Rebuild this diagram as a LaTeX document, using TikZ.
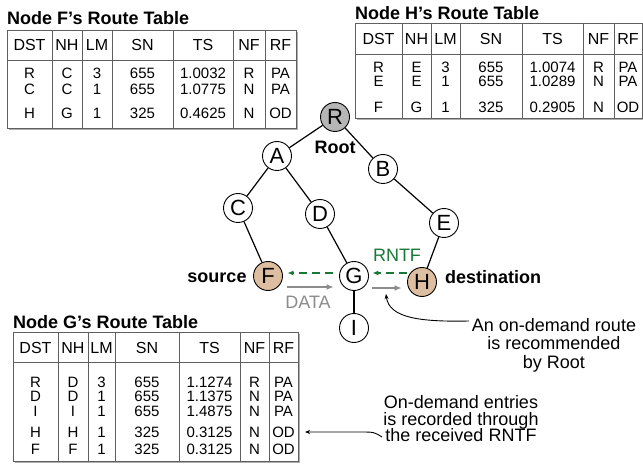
\documentclass[tikz,border=0pt]{standalone}
\usepackage{fontspec}
\setmainfont{Liberation Sans}
\usetikzlibrary{arrows.meta,calc}
\definecolor{nodetan}{RGB}{221,190,160}
\definecolor{rootgray}{RGB}{182,182,182}
\definecolor{rntfgreen}{RGB}{25,120,55}
\definecolor{datagray}{RGB}{140,140,140}
\definecolor{tabcol}{RGB}{95,95,95}
\definecolor{shadowcol}{RGB}{175,175,175}
\newcommand\mytightlines{\lineskiplimit=-20pt\relax}
\tikzset{
  tabl/.style={draw=tabcol, line width=0.9pt},
  tabshadow/.style={draw=shadowcol, line width=1.2pt},
  cell/.style={inner sep=0pt, text height=10.7pt, text depth=0pt, font=\fontsize{15}{15}\selectfont},
  hcell/.style={inner sep=0pt, text height=11.5pt, text depth=0pt, font=\fontsize{16}{16}\selectfont},
  tabtitle/.style={anchor=base west, inner sep=0pt, font=\bfseries\fontsize{18}{18}\selectfont},
  tnode/.style={circle, draw, line width=0.9pt, minimum size=29pt, inner sep=0pt, fill=white,
     text height=15.8pt, text depth=0pt, font=\fontsize{22}{22}\selectfont},
  lab/.style={inner sep=0pt, text height=13pt, text depth=0pt, font=\bfseries\fontsize{18}{18}\selectfont},
  tedge/.style={line width=1.2pt},
  rntfarrow/.style={draw=rntfgreen, line width=1.2pt, dash pattern=on 8pt off 5pt,
     -{Latex[length=6pt,width=5pt]}},
  dataarrow/.style={draw=datagray, line width=1.3pt, -{Latex[length=7pt,width=6pt]}},
  annot/.style={align=center, inner sep=0pt},
  annline/.style={line width=0.9pt, -{Stealth[length=5pt,width=4pt]}}
}
\begin{document}
\begin{tikzpicture}[x=1pt,y=-1pt]
\useasboundingbox[fill=white] (0,0) rectangle (643,465);

% ---------- Node F's table ----------
\node[tabtitle] (ftitle) at (7,25) {Node F’s Route Table};
\draw[tabshadow] (9,129.5) -- (297.5,129.5) -- (297.5,32);
\draw[tabl] (7,30) rectangle (296,128);
\draw[tabl] (7,60) -- (296,60);
\foreach \x in {52,82,112,173,233,265} \draw[tabl] (\x,30) -- (\x,128);
\foreach \t [count=\i] in {DST,NH,LM,SN,TS,NF,RF}{
  \pgfmathsetmacro{\cx}{{29.5,67,97,142.5,203,249,280.5}[\i-1]}
  \node[hcell] (fh\i) at (\cx,45) {\t};}
\foreach \t [count=\i] in {R,C,3,655,1.0032,R,PA}{
  \pgfmathsetmacro{\cx}{{29.5,67,97,142.5,203,249,280.5}[\i-1]}
  \node[cell] (fa\i) at (\cx,73) {\t};}
\foreach \t [count=\i] in {C,C,1,655,1.0775,N,PA}{
  \pgfmathsetmacro{\cx}{{29.5,67,97,142.5,203,249,280.5}[\i-1]}
  \node[cell] (fb\i) at (\cx,89) {\t};}
\foreach \t [count=\i] in {H,G,1,325,0.4625,N,OD}{
  \pgfmathsetmacro{\cx}{{29.5,67,97,142.5,203,249,280.5}[\i-1]}
  \node[cell] (fc\i) at (\cx,113) {\t};}

% ---------- Node H's table ----------
\node[tabtitle] (htitle) at (355,20) {Node H’s Route Table};
\draw[tabshadow] (357,119.5) -- (643,119.5);
\draw[tabl] (355,23) rectangle (642,118);
\draw[tabl] (355,54) -- (642,54);
\foreach \x in {402,431,460,522,583,614} \draw[tabl] (\x,23) -- (\x,118);
\foreach \t [count=\i] in {DST,NH,LM,SN,TS,NF,RF}{
  \pgfmathsetmacro{\cx}{{378.5,416.5,445.5,491,552.5,598.5,628}[\i-1]}
  \node[hcell] (hh\i) at (\cx,39) {\t};}
\foreach \t [count=\i] in {R,E,3,655,1.0074,R,PA}{
  \pgfmathsetmacro{\cx}{{378.5,416.5,445.5,491,552.5,598.5,628}[\i-1]}
  \node[cell] (ha\i) at (\cx,67) {\t};}
\foreach \t [count=\i] in {E,E,1,655,1.0289,N,PA}{
  \pgfmathsetmacro{\cx}{{378.5,416.5,445.5,491,552.5,598.5,628}[\i-1]}
  \node[cell] (hb\i) at (\cx,81) {\t};}
\foreach \t [count=\i] in {F,G,1,325,0.2905,N,OD}{
  \pgfmathsetmacro{\cx}{{378.5,416.5,445.5,491,552.5,598.5,628}[\i-1]}
  \node[cell] (hc\i) at (\cx,107) {\t};}

% ---------- Node G's table ----------
\node[tabtitle] (gtitle) at (13,328) {Node G’s Route Table};
\draw[tabshadow] (15,462.5) -- (299.5,462.5) -- (299.5,334);
\draw[tabl] (13,332) rectangle (298,461);
\draw[tabl] (13,362) -- (298,362);
\foreach \x in {58,88,115,179,240,269} \draw[tabl] (\x,332) -- (\x,461);
\foreach \t [count=\i] in {DST,NH,LM,SN,TS,NF,RF}{
  \pgfmathsetmacro{\cx}{{35.5,73,101.5,147,209.5,254.5,283.5}[\i-1]}
  \node[hcell] (gh\i) at (\cx,348) {\t};}
\foreach \t [count=\i] in {R,D,3,655,1.1274,R,PA}{
  \pgfmathsetmacro{\cx}{{35.5,73,101.5,147,209.5,254.5,283.5}[\i-1]}
  \node[cell] (ga\i) at (\cx,382) {\t};}
\foreach \t [count=\i] in {D,D,1,655,1.1375,N,PA}{
  \pgfmathsetmacro{\cx}{{35.5,73,101.5,147,209.5,254.5,283.5}[\i-1]}
  \node[cell] (gb\i) at (\cx,396) {\t};}
\foreach \t [count=\i] in {I,I,1,655,1.4875,N,PA}{
  \pgfmathsetmacro{\cx}{{35.5,73,101.5,147,209.5,254.5,283.5}[\i-1]}
  \node[cell] (gc\i) at (\cx,411) {\t};}
\foreach \t [count=\i] in {H,H,1,325,0.3125,N,OD}{
  \pgfmathsetmacro{\cx}{{35.5,73,101.5,147,209.5,254.5,283.5}[\i-1]}
  \node[cell] (gd\i) at (\cx,432) {\t};}
\foreach \t [count=\i] in {F,F,1,325,0.3125,N,OD}{
  \pgfmathsetmacro{\cx}{{35.5,73,101.5,147,209.5,254.5,283.5}[\i-1]}
  \node[cell] (ge\i) at (\cx,449) {\t};}

% ---------- Tree ----------
\node[tnode, fill=rootgray] (R) at (335,117) {R};
\node[tnode] (A) at (277,156) {A};
\node[tnode] (B) at (383,169) {B};
\node[tnode] (C) at (238,208) {C};
\node[tnode] (D) at (320,214) {D};
\node[tnode] (E) at (444,223) {E};
\node[tnode, fill=nodetan] (F) at (268,276) {F};
\node[tnode] (G) at (354,276) {G};
\node[tnode, fill=nodetan] (H) at (422,282) {H};
\node[tnode] (I) at (354,328) {I};

\draw[tedge] (R) -- (A);
\draw[tedge] (R) -- (B);
\draw[tedge] (A) -- (C);
\draw[tedge] (A) -- (D);
\draw[tedge] (C) -- (F);
\draw[tedge] (D) -- (G);
\draw[tedge] (B) -- (E);
\draw[tedge] (E) -- (H);
\draw[tedge] (G) -- (I);

\node[lab] (root) at (335,147) {Root};
\node[lab] (src) at (217,276) {source};
\node[lab] (dst) at (493,277) {destination};

% RNTF arrows
\draw[rntfarrow] ($(G.west)+(-6,-3)$) -- ($(F.east)+(4.5,-3)$);
\draw[rntfarrow] ($(H.west|-G.east)+(0,-3)$) -- ($(G.east)+(3.5,-3)$);
\node[inner sep=0pt, text height=13pt, text depth=0pt, text=rntfgreen, font=\fontsize{18}{18}\selectfont] (rntf) at (397,255) {RNTF};

% DATA arrows
\draw[dataarrow] ($(F.east)+(4.5,11)$) -- ($(G.west)+(-5.5,11)$);
\draw[dataarrow] ($(G.east)+(3.5,12)$) -- ($(H.west)+(-5.5,6)$);
\node[inner sep=0pt, text height=13pt, text depth=0pt, text=datagray, font=\fontsize{18}{18}\selectfont] (data) at (308,302) {DATA};

% Annotations
\node[annot, font={\fontsize{18}{18.5}\selectfont}] (ann1) at (554,345) {An on-demand route\\is recommended\\by Root};
\node[annot, font={\fontsize{18}{16.5}\selectfont\mytightlines}] (ann2) at (461,419) {On-demand entries\\is recorded through\\the received RNTF};
\coordinate (a1s) at (469,321);
\coordinate (a1e) at (386,294);
\coordinate (a2s) at (382,437);
\coordinate (a2e) at (305,432);
\draw[annline] (a1s) .. controls (420,322) and (389,318) .. (a1e);
\draw[annline] (a2s) .. controls (374,432) .. (360,432) -- (a2e);
\end{tikzpicture}
\end{document}
